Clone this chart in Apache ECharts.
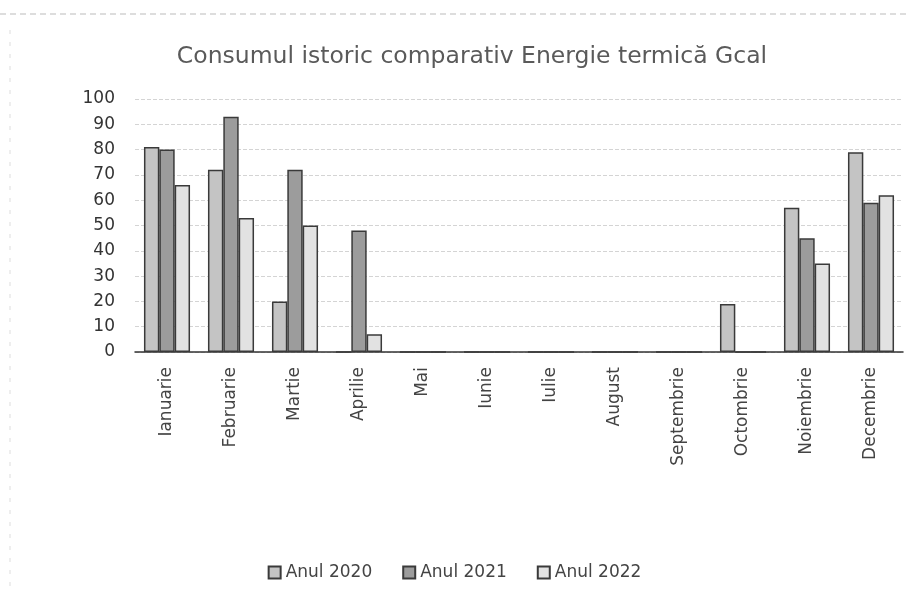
<!DOCTYPE html>
<html>
<head>
<meta charset="utf-8">
<script src="https://cdn.jsdelivr.net/npm/echarts@6/dist/echarts.min.js"></script>
<style>
  html, body { margin: 0; padding: 0; background: #fff; }
  #chart { width: 909px; height: 601px; }
</style>
</head>
<body>
<div id="chart"></div>
<script>
// luni
const months = ['Ianuarie', 'Februarie', 'Martie', 'Aprilie', 'Mai', 'Iunie', 'Iulie',
    'August', 'Septembrie', 'Octombrie', 'Noiembrie', 'Decembrie'];
const an2020 = [81, 72, 20, 0, 0, 0, 0, 0, 0, 19, 57, 79];
const an2021 = [80, 93, 72, 48, 0, 0, 0, 0, 0, 0, 45, 59];
const an2022 = [66, 53, 50, 7, 0, 0, 0, 0, 0, 0, 35, 62];
const yTicks = [0, 10, 20, 30, 40, 50, 60, 70, 80, 90, 100];

const font = 'DejaVu Sans';

const mkSeries = (name, data, color) => ({
    name,
    type: 'bar',
    data,
    barGap: '0%',
    barCategoryGap: '28%',
    itemStyle: {color, borderColor: '#3a3a3a', borderWidth: 1.5}
});

const chart = echarts.init(document.getElementById('chart'));
chart.setOption({
    animation: false,
    textStyle: {fontFamily: font},
    title: {
        text: 'Consumul istoric comparativ Energie termică Gcal',
        left: 467, top: 40, textAlign: 'center',
        textStyle: {fontFamily: font, fontSize: 23.5, fontWeight: 'normal', color: '#5a5a5a'}
    },
    legend: {
        bottom: 15, left: 'center',
        icon: 'rect',
        itemWidth: 12, itemHeight: 12, itemGap: 30,
        textStyle: {fontFamily: font, fontSize: 17, color: '#444'},
        data: ['Anul 2020', 'Anul 2021', 'Anul 2022']
    },
    grid: {left: 135, right: 6, top: 99, bottom: 249},
    xAxis: {
        type: 'category',
        data: months,
        axisTick: {show: false},
        axisLine: {lineStyle: {color: '#333', width: 1.5}},
        axisLabel: {rotate: 90, fontFamily: font, fontSize: 17, color: '#444', margin: 15, interval: 0}
    },
    yAxis: {
        type: 'value',
        min: yTicks[0], max: yTicks[yTicks.length - 1], interval: 10,
        axisLine: {show: false},
        axisTick: {show: false},
        axisLabel: {fontFamily: font, fontSize: 17, color: '#333', margin: 20},
        splitLine: {lineStyle: {color: '#d4d4d4', type: 'dashed'}}
    },
    graphic: [
        {type: 'line', shape: {x1: 0, y1: 14, x2: 909, y2: 14}, style: {stroke: '#bbb', lineDash: [6, 4]}},
        {type: 'line', shape: {x1: 10, y1: 30, x2: 10, y2: 590}, style: {stroke: '#ddd', lineDash: [4, 8]}}
    ],
    series: [
        mkSeries('Anul 2020', an2020, '#c4c4c4'),
        mkSeries('Anul 2021', an2021, '#9c9c9c'),
        mkSeries('Anul 2022', an2022, '#e2e2e2')
    ]
});
</script>
</body>
</html>
